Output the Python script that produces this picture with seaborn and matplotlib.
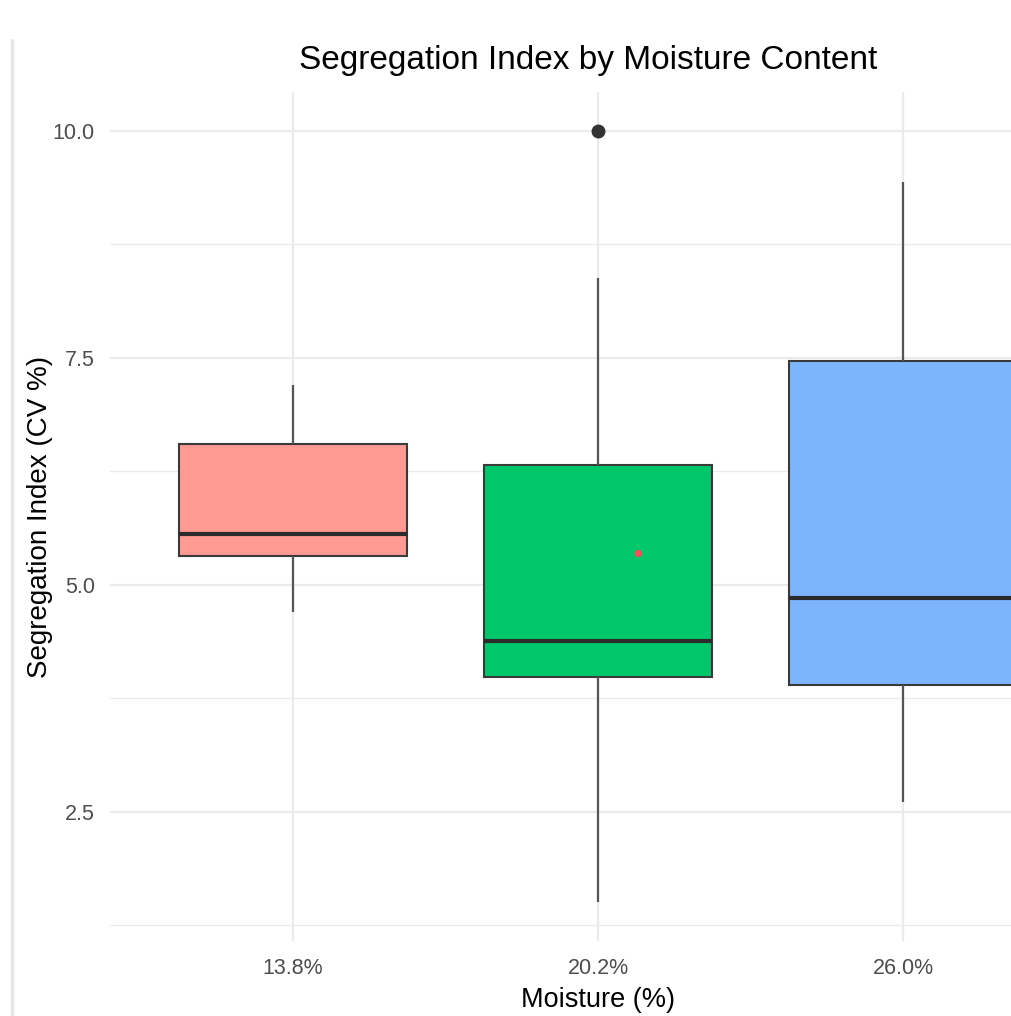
import numpy as np
import pandas as pd
import matplotlib
matplotlib.use("Agg")
import matplotlib.pyplot as plt
from matplotlib.lines import Line2D
import seaborn as sns

# Moisture levels and the segregation index (CV %) measured at each level
moisture_labels = ["13.8%", "20.2%", "26.0%"]
cv_13_8 = [4.70, 5.32, 5.56, 6.55, 7.20]
cv_20_2 = [1.50, 3.98, 3.98, 4.38, 4.38, 6.32, 6.32, 8.38, 10.00]
cv_26_0 = [2.61, 3.89, 4.85, 7.46, 9.43]

# Single highlighted run plotted over the 20.2% group
highlight_label = "20.2%"
highlight_cv = 5.35
highlight_jitter = 0.13

box_colors = ["#FF9A93", "#00C86A", "#7DB5FC"]

df = pd.DataFrame({
    "Moisture": ([moisture_labels[0]] * len(cv_13_8)
                 + [moisture_labels[1]] * len(cv_20_2)
                 + [moisture_labels[2]] * len(cv_26_0)),
    "CV": cv_13_8 + cv_20_2 + cv_26_0,
})
df["Moisture"] = pd.Categorical(df["Moisture"], categories=moisture_labels, ordered=True)

sns.set_theme(style="whitegrid")
plt.rcParams["font.family"] = ["Liberation Sans", "DejaVu Sans"]

fig = plt.figure(figsize=(10.12, 10.16), dpi=100)
W, H = 1012, 1016
ax = fig.add_axes([110 / W, (H - 941) / H, (1086 - 110) / W, (941 - 92) / H])

sns.boxplot(
    data=df, x="Moisture", y="CV", hue="Moisture", palette=box_colors,
    order=moisture_labels, hue_order=moisture_labels, legend=False,
    width=0.75, whis=1.5, saturation=1, ax=ax,
    linecolor="#3a3a3a", linewidth=1.5,
    boxprops=dict(edgecolor="#3a3a3a"),
    whiskerprops=dict(color="#555555", linewidth=1.6),
    capprops=dict(linewidth=0),
    medianprops=dict(color="#2b2b2b", linewidth=3.0),
    flierprops=dict(marker="o", markersize=9, markerfacecolor="#333333",
                    markeredgecolor="#333333"),
    zorder=3,
)

# highlighted point, nudged sideways from its category
hx = moisture_labels.index(highlight_label) + highlight_jitter
ax.scatter([hx], [highlight_cv], s=28, color="#FF4D5A", zorder=5, linewidths=0)

ax.set_xlim(-0.6, 2.6)
ax.set_ylim(1.075, 10.425)
ax.set_yticks([2.5, 5.0, 7.5, 10.0])
ax.set_yticklabels(["2.5", "5.0", "7.5", "10.0"])
ax.set_yticks([1.25, 3.75, 6.25, 8.75], minor=True)

ax.grid(True, which="major", axis="both", color="#EBEBEB", linewidth=1.6, zorder=0)
ax.grid(True, which="minor", axis="y", color="#EBEBEB", linewidth=1.0, zorder=0)
ax.set_axisbelow(True)
for s in ax.spines.values():
    s.set_visible(False)
ax.set_facecolor("white")
ax.tick_params(axis="both", which="both", length=0, colors="#4D4D4D", labelsize=15.5)
ax.tick_params(axis="x", pad=12)
ax.tick_params(axis="y", pad=11)

ax.set_xlabel("Moisture (%)", fontsize=19.5, color="black", labelpad=6)
ax.set_ylabel("Segregation Index (CV %)", fontsize=20, color="black", labelpad=0)
fig.text(588 / W, 1 - 61 / H, "Segregation Index by Moisture Content",
         ha="center", va="center", fontsize=24, color="black")

# faint frame edge on the left
fig.add_artist(Line2D([12 / W, 12 / W], [0, 1 - 40 / H], transform=fig.transFigure,
                      color="#E6E6E6", linewidth=2.5))

fig.savefig("out.png", dpi=100)
